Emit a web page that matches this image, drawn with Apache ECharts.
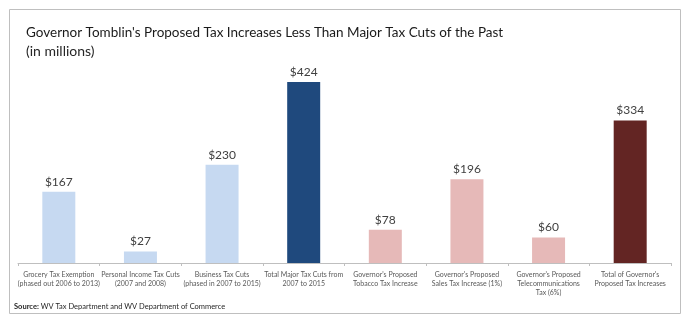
<!DOCTYPE html>
<html>
<head>
<meta charset="utf-8">
<script src="https://cdn.jsdelivr.net/npm/echarts@6/dist/echarts.min.js"></script>
<style>
  html, body { margin: 0; padding: 0; background: #ffffff; }
  #chart { width: 694px; height: 323px; }
</style>
</head>
<body>
<div id="chart"></div>
<script>
// Categories (multi-line axis labels)
const categories = [
  'Grocery Tax Exemption\n(phased out 2006 to 2013)',
  'Personal Income Tax Cuts\n(2007 and 2008)',
  'Business Tax Cuts\n(phased in 2007 to 2015)',
  'Total Major Tax Cuts from\n2007 to 2015',
  "Governor's Proposed\nTobacco Tax Increase",
  "Governor's Proposed\nSales Tax Increase (1%)",
  "Governor's Proposed\nTelecommunications\nTax (6%)",
  "Total of Governor's\nProposed Tax Increases"
];

// Amounts in millions of dollars
const values = [167, 27, 230, 424, 78, 196, 60, 334];

// Bar fills: past cuts in blue, proposed increases in red, totals darker
const barColors = ['#c6d9f1', '#c6d9f1', '#c6d9f1', '#1f497d', '#e6b9b8', '#e6b9b8', '#e6b9b8', '#632523'];

const FONT = 'Lato, "Open Sans", sans-serif';

const chart = echarts.init(document.getElementById('chart'), null, { renderer: 'canvas' });

chart.setOption({
  animation: false,
  textStyle: { fontFamily: FONT },
  title: {
    text: "Governor Tomblin's Proposed Tax Increases Less Than Major Tax Cuts of the Past",
    subtext: '(in millions)',
    left: 21,
    top: 21,
    itemGap: 4,
    textStyle: { fontFamily: FONT, fontSize: 13.5, fontWeight: 'normal', color: '#1a1a1a' },
    subtextStyle: { fontFamily: FONT, fontSize: 14, color: '#262626' }
  },
  graphic: [
    {
      type: 'rect',
      shape: { x: 9.5, y: 9.5, width: 671, height: 304 },
      style: { fill: 'none', stroke: '#bfbfbf', lineWidth: 1 },
      z: -1
    },
    {
      type: 'text',
      left: 14,
      top: 303,
      style: {
        text: '{b|Source:} WV Tax Department and WV Department of Commerce',
        rich: {
          b: { fontWeight: 'bold', fontSize: 7.5, fontFamily: FONT, fill: '#262626' }
        },
        fontSize: 7.5,
        fontFamily: FONT,
        fill: '#262626'
      }
    }
  ],
  grid: { left: 18, right: 23, top: 71, bottom: 60, containLabel: false },
  xAxis: {
    type: 'category',
    data: categories,
    axisLine: { lineStyle: { color: '#bfbfbf', width: 1 } },
    axisTick: { show: true, length: 3, lineStyle: { color: '#bfbfbf' } },
    axisLabel: {
      interval: 0,
      fontSize: 7,
      lineHeight: 9,
      margin: 7,
      color: '#595959',
      fontFamily: FONT
    }
  },
  yAxis: {
    type: 'value',
    min: 0,
    max: 450,
    show: false,
    splitLine: { show: false }
  },
  series: [{
    type: 'bar',
    barWidth: 33,
    data: values.map((v, i) => ({ value: v, itemStyle: { color: barColors[i] } })),
    label: {
      show: true,
      position: 'top',
      distance: 4,
      formatter: p => '$' + p.value,
      fontSize: 12,
      color: '#404040',
      fontFamily: FONT
    }
  }]
});
</script>
</body>
</html>
